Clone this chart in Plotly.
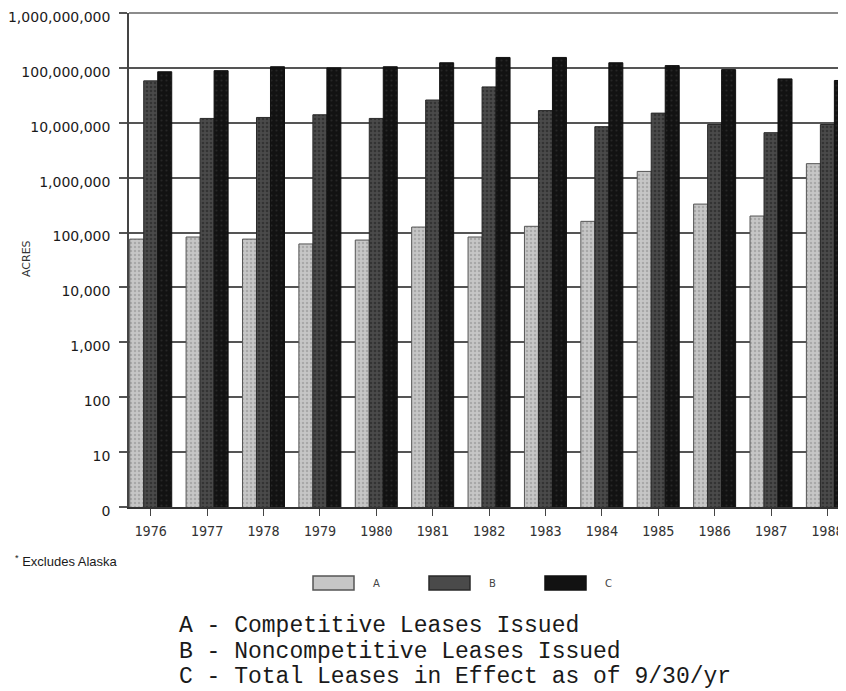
import plotly.graph_objects as go

years = ["1976", "1977", "1978", "1979", "1980", "1981", "1982",
         "1983", "1984", "1985", "1986", "1987", "1988"]
competitive = [76000, 83000, 76000, 62000, 73000, 126000, 83000,
               130000, 160000, 1300000, 330000, 200000, 1800000]
noncompetitive = [58000000, 12000000, 12500000, 14000000, 12000000, 26000000, 45000000,
                  16700000, 8500000, 15000000, 9300000, 6600000, 9300000]
total_in_effect = [85000000, 89000000, 105000000, 100000000, 105000000, 124000000, 155000000,
                   155000000, 124000000, 110000000, 93000000, 63000000, 59000000]

y_tickvals = [1, 10, 100, 1000, 10000, 100000, 1000000, 10000000, 100000000, 1000000000]
y_ticktext = ["0", "10", "100", "1,000", "10,000", "100,000", "1,000,000",
              "10,000,000", "100,000,000", "1,000,000,000"]

series_names = ["A", "B", "C"]
descriptions = ["A - Competitive Leases Issued",
                "B - Noncompetitive Leases Issued",
                "C - Total Leases in Effect as of 9/30/yr"]
footnote = "<sup>*</sup> Excludes Alaska"
y_title = "ACRES"

# The page body has an 8px default margin; lay out in page pixels and convert.
OFF = 8
W, H = 846 - OFF, 691 - OFF
L, R, T, B = 129 - OFF, 846 - OFF, 13 - OFF, 507 - OFF


def xp(px):
    return (px - OFF - L) / (R - L)


def yp(py):
    return (B - (py - OFF)) / (B - T)


styles = [
    dict(color="#c6c6c6", fg="#8a8a8a", line="#555555", size=4, sol=0.3),
    dict(color="#4a4a4a", fg="#1c1c1c", line="#2a2a2a", size=4, sol=0.35),
    dict(color="#121212", fg="#3a3a3a", line="#111111", size=5, sol=0.15),
]

fig = go.Figure()
for name, vals, st in zip(series_names, [competitive, noncompetitive, total_in_effect], styles):
    fig.add_trace(go.Bar(
        x=years, y=vals, name=name,
        marker=dict(color=st["color"],
                    line=dict(color=st["line"], width=1),
                    pattern=dict(shape=".", fgcolor=st["fg"], size=st["size"], solidity=st["sol"])),
        showlegend=False,
    ))

fig.update_layout(
    width=W, height=H,
    margin=dict(l=L, r=W - R, t=T, b=H - B, autoexpand=False),
    paper_bgcolor="white", plot_bgcolor="white",
    barmode="group", bargap=0.255, bargroupgap=0,
    font=dict(family="DejaVu Sans", color="#222222"),
)

fig.update_yaxes(
    type="log", range=[0, 9], automargin=False,
    tickvals=y_tickvals, ticktext=y_ticktext,
    tickfont=dict(family="DejaVu Sans", size=14, color="#1a1a1a"),
    showgrid=True, gridcolor="#555555", gridwidth=1.6,
    ticks="outside", ticklen=8, tickcolor="#555555", tickwidth=1.6,
    ticklabelstandoff=6, ticklabelshift=4, ticklabeloverflow="allow",
    showline=True, linecolor="#444444", linewidth=1.6,
    zeroline=False,
)
fig.update_xaxes(
    type="category", range=[-0.385, 12.33], automargin=False,
    tickfont=dict(family="DejaVu Sans Mono", size=13.5, color="#333333"),
    ticks="outside", ticklen=7, tickcolor="#444444", tickwidth=1.4,
    ticklabelstandoff=4, ticklabeloverflow="allow",
    showline=True, linecolor="#333333", linewidth=1.8,
    showgrid=False,
)

# top gridline at the 1,000,000,000 level (edge of the plotting area)
fig.add_shape(type="line", xref="paper", yref="paper", x0=0, x1=1, y0=1, y1=1,
              line=dict(color="#666666", width=1.6))

annotations = [
    dict(text=y_title, x=xp(26), y=yp(259), xref="paper", yref="paper",
         textangle=-90, showarrow=False, font=dict(family="DejaVu Sans", size=11, color="#333333"),
         xanchor="center", yanchor="middle"),
    dict(text=footnote, x=xp(13), y=yp(561), xref="paper", yref="paper",
         showarrow=False, font=dict(family="Liberation Sans", size=13, color="#1a1a1a"),
         xanchor="left", yanchor="middle"),
]

legend_boxes = [(313, 354, 376), (429, 470, 492), (545, 586, 608)]
for (x0, x1, lx), name, st in zip(legend_boxes, series_names, styles):
    fig.add_shape(type="rect", xref="paper", yref="paper",
                  x0=xp(x0), x1=xp(x1), y0=yp(590), y1=yp(576),
                  fillcolor=st["color"], line=dict(color=st["line"], width=1.5))
    annotations.append(dict(text=name, x=xp(lx), y=yp(583), xref="paper", yref="paper",
                            showarrow=False, font=dict(family="DejaVu Sans", size=10, color="#444444"),
                            xanchor="center", yanchor="middle"))

for i, txt in enumerate(descriptions):
    annotations.append(dict(text=txt, x=xp(177), y=yp(626 + 25.5 * i), xref="paper", yref="paper",
                            showarrow=False,
                            font=dict(family="Courier New, Liberation Mono, monospace", size=23, color="#1a1a1a"),
                            xanchor="left", yanchor="middle"))

fig.update_layout(annotations=annotations)

fig.write_html("out.html")
